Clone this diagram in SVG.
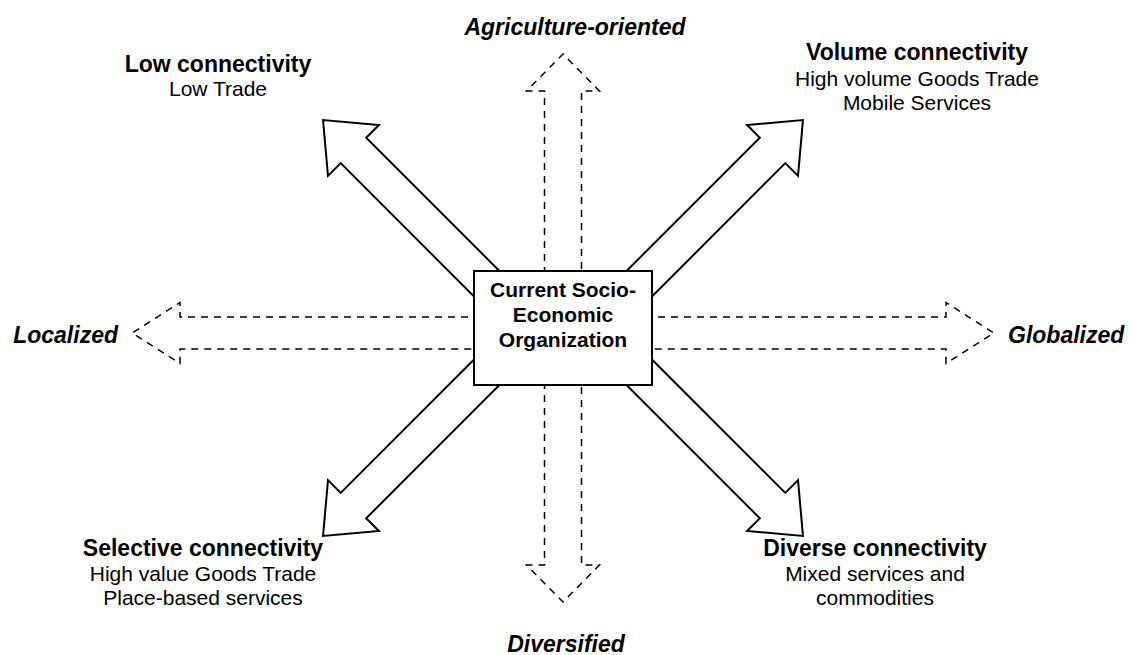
<svg xmlns="http://www.w3.org/2000/svg" width="1140" height="655" viewBox="0 0 1140 655">
<style>
.solid{fill:#fff;stroke:#000;stroke-width:2;stroke-linejoin:miter}
.dash{fill:#fff;stroke:#000;stroke-width:1.5;stroke-dasharray:7 6}
.box{fill:#fff;stroke:#000;stroke-width:2}
text{font-family:"Liberation Sans",Arial,sans-serif;fill:#000;text-anchor:middle}
.h{font-weight:bold;font-size:23px}
.hi{font-weight:bold;font-style:italic;font-size:23px}
.s{font-size:21px}
.c{font-weight:bold;font-size:21px}
</style>
<defs>
<polygon id="diag" class="solid" points="-40,-18 170.5,-18 170.5,-36 213.5,0 170.5,36 170.5,18 -40,18"/>
</defs>
<rect width="1140" height="655" fill="#fff"/>
<g id="connectors">
<use href="#diag" transform="translate(474,271) rotate(-135)"/>
<use href="#diag" transform="translate(652,271) rotate(-45)"/>
<use href="#diag" transform="translate(652,385) rotate(45)"/>
<use href="#diag" transform="translate(474,385) rotate(135)"/>
<polygon class="dash" points="544.5,300 544.5,91 526.5,91 563,54 599.5,91 581.5,91 581.5,300"/>
<polygon class="dash" points="544.5,356 544.5,565 526.5,565 563,602 599.5,565 581.5,565 581.5,356"/>
<polygon class="dash" points="520,317 180,317 180,302.5 132,333 180,363.5 180,349 520,349"/>
<polygon class="dash" points="606,317 946,317 946,302.5 994,333 946,363.5 946,349 606,349"/>
</g>
<g id="center">
<rect class="box" x="474" y="271" width="178" height="114"/>
<text class="c" x="563" y="297">Current Socio-</text>
<text class="c" x="563" y="322">Economic</text>
<text class="c" x="563" y="347">Organization</text>
</g>
<g id="agriculture"><text class="hi" x="575" y="35">Agriculture-oriented</text></g>
<g id="diversified"><text class="hi" x="566" y="652">Diversified</text></g>
<g id="localized"><text class="hi" x="118" y="343" style="text-anchor:end">Localized</text></g>
<g id="globalized"><text class="hi" x="1008" y="343" style="text-anchor:start">Globalized</text></g>
<g id="low">
<text class="h" x="218" y="72">Low connectivity</text>
<text class="s" x="218" y="96">Low Trade</text>
</g>
<g id="volume">
<text class="h" x="917" y="60">Volume connectivity</text>
<text class="s" x="917" y="86">High volume Goods Trade</text>
<text class="s" x="917" y="110">Mobile Services</text>
</g>
<g id="selective">
<text class="h" x="203" y="556">Selective connectivity</text>
<text class="s" x="203" y="581">High value Goods Trade</text>
<text class="s" x="203" y="605">Place-based services</text>
</g>
<g id="diverse">
<text class="h" x="875" y="556">Diverse connectivity</text>
<text class="s" x="875" y="581">Mixed services and</text>
<text class="s" x="875" y="605">commodities</text>
</g>
</svg>
